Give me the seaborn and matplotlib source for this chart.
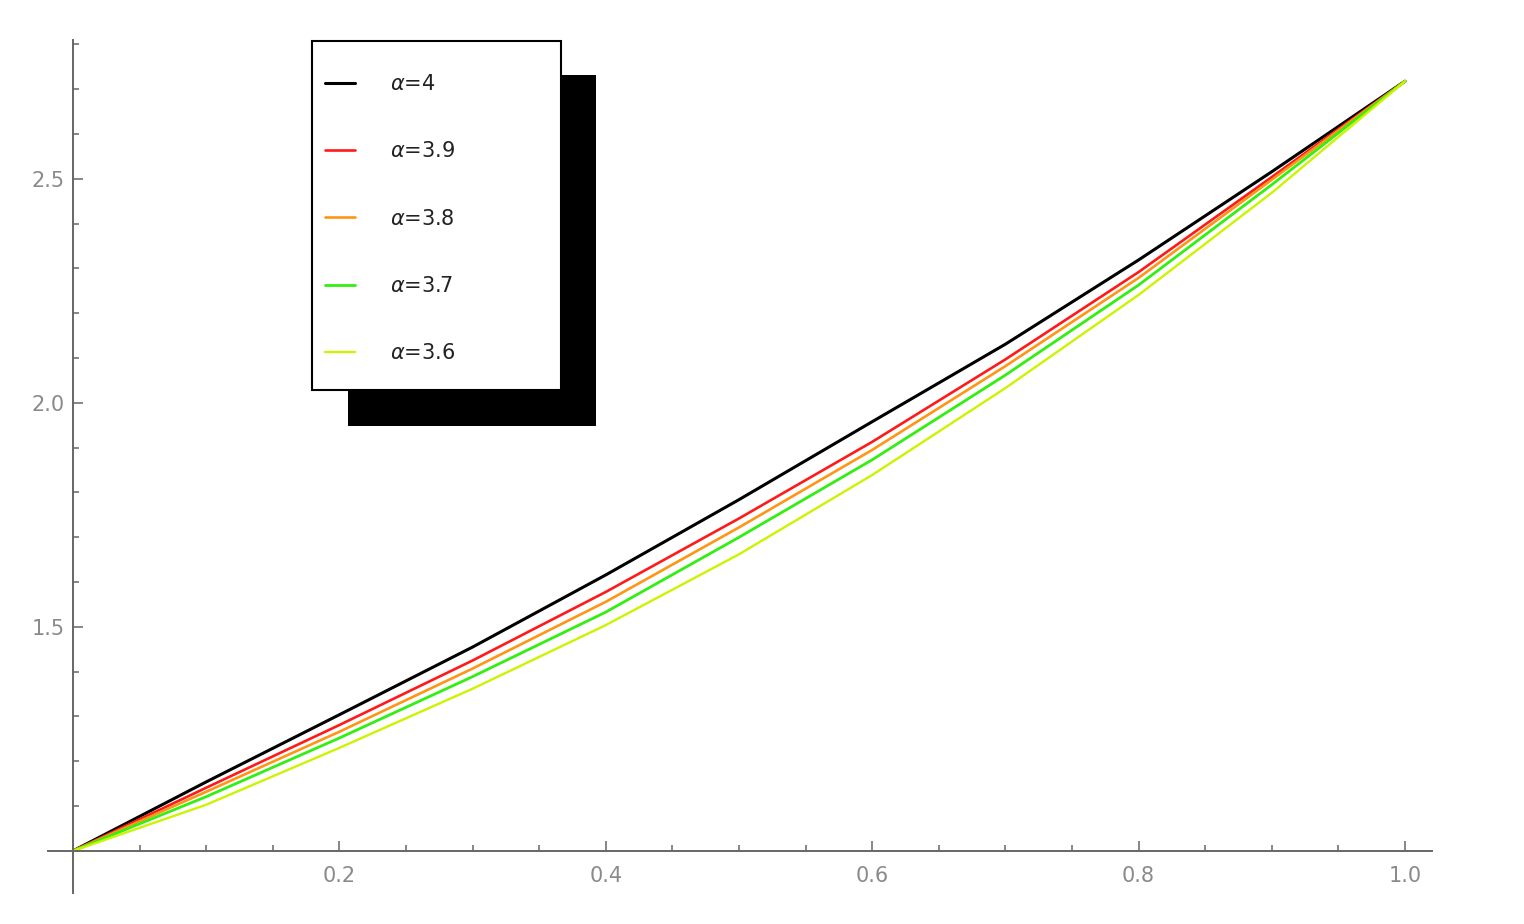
import numpy as np
import pandas as pd
import matplotlib
matplotlib.use("Agg")
import matplotlib.pyplot as plt
from matplotlib.patches import Rectangle
from matplotlib.ticker import MultipleLocator, FixedLocator
import seaborn as sns

# ---- data ----
x_vals = [0.0, 0.1, 0.2, 0.3, 0.4, 0.5, 0.6, 0.7, 0.8, 0.9, 1.0]
alpha_4 = [1.0, 1.154, 1.304, 1.455, 1.616, 1.784, 1.958, 2.131, 2.319, 2.516, 2.718]
alpha_39 = [1.0, 1.141, 1.281, 1.425, 1.578, 1.742, 1.913, 2.097, 2.292, 2.504, 2.718]
alpha_38 = [1.0, 1.132, 1.266, 1.407, 1.556, 1.722, 1.895, 2.082, 2.279, 2.498, 2.718]
alpha_37 = [1.0, 1.121, 1.252, 1.389, 1.533, 1.700, 1.873, 2.062, 2.263, 2.487, 2.718]
alpha_36 = [1.0, 1.103, 1.230, 1.362, 1.504, 1.662, 1.839, 2.033, 2.241, 2.469, 2.718]
labels = [r"$\alpha$=4", r"$\alpha$=3.9", r"$\alpha$=3.8", r"$\alpha$=3.7", r"$\alpha$=3.6"]
x_tick_vals = [0.2, 0.4, 0.6, 0.8, 1.0]
y_tick_vals = [1.5, 2.0, 2.5]

series = [alpha_4, alpha_39, alpha_38, alpha_37, alpha_36]
colors = ["#000000", "#ff1a1a", "#ff9514", "#33ee11", "#ccf400"]
widths = [2.2, 1.9, 1.9, 2.0, 1.7]

sns.set_theme(style="white")
plt.rcParams['font.family'] = ['DejaVu Sans']

fig = plt.figure(figsize=(15.24, 9.24), dpi=100)
ax = fig.add_axes([48/1524, 1-893/924, (1432-48)/1524, (893-40)/924])

handles = []
for vals, c, lw, lab in zip(series, colors, widths, labels):
    df = pd.DataFrame({"x": x_vals, "y": vals})
    sns.lineplot(data=df, x="x", y="y", color=c, linewidth=lw, ax=ax, label=lab, legend=False)
    handles.append(ax.lines[-1])

ax.set_xlim(-0.0188, 1.0203)
ax.set_ylim(0.906, 2.81)
ax.set_xlabel("")
ax.set_ylabel("")

for s in ["top", "right"]:
    ax.spines[s].set_visible(False)
ax.spines["left"].set_position(("data", 0))
ax.spines["bottom"].set_position(("data", 1))
for s in ["left", "bottom"]:
    ax.spines[s].set_color("#666666")
    ax.spines[s].set_linewidth(1.4)

ax.xaxis.set_major_locator(FixedLocator(x_tick_vals))
ax.yaxis.set_major_locator(FixedLocator(y_tick_vals))
ax.xaxis.set_minor_locator(MultipleLocator(0.05))
ax.yaxis.set_minor_locator(MultipleLocator(0.1))
ax.set_xticklabels([f"{v:.1f}" for v in x_tick_vals])
ax.set_yticklabels([f"{v:.1f}" for v in y_tick_vals])
ax.tick_params(which="both", direction="in", color="#666666", width=1.1,
               bottom=True, left=True)
ax.tick_params(which="major", length=7, labelsize=15, labelcolor="#8a8a8a")
ax.tick_params(which="minor", length=4)
ax.tick_params(axis="x", which="major", pad=11)
ax.tick_params(axis="y", which="major", pad=6)

# legend frame with solid black shadow
shadow = Rectangle((348/1524, 1-426/924), 248/1524, 351/924, transform=fig.transFigure,
                   facecolor="black", edgecolor="black", lw=0, zorder=1)
frame = Rectangle((312/1524, 1-390/924), 249/1524, 349/924, transform=fig.transFigure,
                  facecolor="white", edgecolor="black", lw=1.5, zorder=2)
fig.patches.extend([shadow, frame])

leg = fig.legend(handles=handles, labels=labels, loc="upper left",
                 bbox_to_anchor=(325/1524, 1-74/924), bbox_transform=fig.transFigure,
                 frameon=False, borderpad=0, borderaxespad=0, fontsize=15,
                 labelspacing=2.27, handlelength=1.44, handletextpad=1.68,
                 labelcolor="#222222")
leg.set_zorder(3)

fig.savefig("out.png", dpi=100)
